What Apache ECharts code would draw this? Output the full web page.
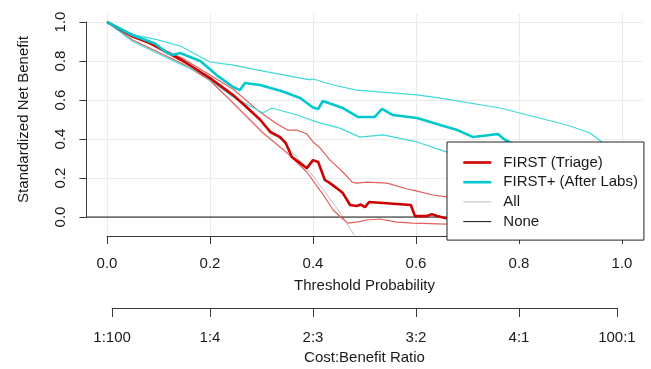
<!DOCTYPE html>
<html><head><meta charset="utf-8">
<script src="https://cdn.jsdelivr.net/npm/echarts@6/dist/echarts.min.js"></script>
<style>html,body{margin:0;padding:0;background:#fff}#c{width:651px;height:369px}</style>
</head><body><div id="c"></div>
<script>
// ---- data ----
const thresholdTicks = [0, 0.2, 0.4, 0.6, 0.8, 1.0];
const netBenefitTicks = [0, 0.2, 0.4, 0.6, 0.8, 1.0];
const costBenefitLabels = ['1:100', '1:4', '2:3', '3:2', '4:1', '100:1'];
const costBenefitRatios = [[1,100],[1,4],[2,3],[3,2],[4,1],[100,1]];

const firstMain = [[0,1],[0.05,0.925],[0.083,0.892],[0.148,0.8],[0.2,0.712],[0.245,0.625],[0.265,0.578],[0.297,0.5],[0.317,0.436],[0.336,0.41],[0.347,0.38],[0.359,0.308],[0.388,0.251],[0.4,0.292],[0.41,0.282],[0.423,0.19],[0.433,0.174],[0.452,0.136],[0.458,0.123],[0.472,0.062],[0.485,0.057],[0.493,0.064],[0.501,0.051],[0.509,0.077],[0.536,0.072],[0.59,0.062],[0.598,0.005],[0.621,0.005],[0.631,0.015],[0.641,0.005],[0.656,-0.005],[0.72,-0.01]];
const firstUpper = [[0,1],[0.05,0.928],[0.148,0.812],[0.2,0.728],[0.245,0.655],[0.297,0.538],[0.33,0.477],[0.351,0.446],[0.369,0.446],[0.388,0.426],[0.4,0.385],[0.414,0.354],[0.433,0.292],[0.458,0.231],[0.476,0.179],[0.485,0.174],[0.505,0.179],[0.544,0.174],[0.583,0.144],[0.602,0.133],[0.633,0.113],[0.66,0.103],[0.72,0.08]];
const firstLower = [[0,1],[0.05,0.908],[0.148,0.785],[0.2,0.7],[0.239,0.6],[0.303,0.431],[0.35,0.328],[0.388,0.231],[0.419,0.118],[0.439,0.036],[0.458,-0.01],[0.468,-0.031],[0.485,-0.026],[0.505,-0.015],[0.53,-0.01],[0.563,-0.026],[0.594,-0.031],[0.66,-0.036],[0.72,-0.04]];

const plusMain = [[0,1],[0.05,0.932],[0.093,0.89],[0.117,0.841],[0.128,0.831],[0.142,0.841],[0.181,0.8],[0.2,0.758],[0.214,0.725],[0.245,0.667],[0.258,0.651],[0.268,0.687],[0.297,0.677],[0.34,0.645],[0.375,0.61],[0.4,0.562],[0.41,0.554],[0.419,0.595],[0.458,0.559],[0.487,0.513],[0.52,0.513],[0.534,0.554],[0.555,0.523],[0.602,0.508],[0.647,0.472],[0.68,0.446],[0.711,0.41],[0.744,0.421],[0.759,0.426],[0.773,0.395],[0.786,0.379],[0.82,0.36]];
const plusUpper = [[0,1],[0.05,0.935],[0.097,0.91],[0.142,0.877],[0.2,0.795],[0.245,0.779],[0.311,0.744],[0.394,0.703],[0.4,0.708],[0.439,0.677],[0.485,0.651],[0.602,0.626],[0.647,0.61],[0.763,0.559],[0.816,0.523],[0.893,0.472],[0.938,0.431],[0.961,0.385],[0.98,0.33]];
const plusLower = [[0,1],[0.05,0.9],[0.117,0.815],[0.181,0.738],[0.2,0.703],[0.245,0.615],[0.303,0.533],[0.32,0.559],[0.369,0.523],[0.408,0.487],[0.452,0.456],[0.491,0.41],[0.536,0.421],[0.602,0.385],[0.66,0.333],[0.72,0.29]];

const treatAll = [[0,1],[0.05,0.938],[0.1,0.869],[0.15,0.791],[0.2,0.704],[0.25,0.606],[0.3,0.493],[0.35,0.363],[0.4,0.211],[0.45,0.032],[0.48,-0.092],[0.5,-0.183]];
const treatNone = [[-0.04,0],[1.04,0]];

// ---- chart ----
const FONT = 'Arial, "Liberation Sans", sans-serif';
const TXT = '#1a1a1a';
const AX = '#3a3a3a';
const GRIDC = '#ebebeb';
const cbTicks = costBenefitRatios.map(r => r[0] / (r[0] + r[1]));

const chart = echarts.init(document.getElementById('c'), null, {renderer: 'canvas'});

function line(name, data, color, width, z) {
  return {type: 'line', name, data, xAxisIndex: 0, yAxisIndex: 0, symbol: 'none',
    showSymbol: false, clip: true, animation: false, z: z || 2, silent: true,
    lineStyle: {color, width}, itemStyle: {color}};
}

chart.setOption({
  animation: false,
  backgroundColor: '#fff',
  textStyle: {fontFamily: FONT},
  grid: [
    {left: 86.4, top: 13.8, width: 556.2, height: 221.2},
    {left: 107, top: 13.8, width: 515, height: 222.2},
    {left: 86.4, top: 22, width: 556.2, height: 195},
    {left: 107 + 515 / 101, top: 307, width: 515 * 99 / 101, height: 1}
  ],
  xAxis: [
    {gridIndex: 0, type: 'value', min: -0.04, max: 1.04, show: false},
    {gridIndex: 1, type: 'value', min: 0, max: 1, interval: 0.2,
      axisLine: {show: true, lineStyle: {color: AX, width: 1}},
      axisTick: {show: true, inside: false, length: 8, lineStyle: {color: AX}},
      axisLabel: {margin: 20, fontSize: 15, color: TXT, fontFamily: FONT,
        formatter: v => thresholdTicks.find(t => Math.abs(t - v) < 1e-6) !== undefined ? v.toFixed(1) : ''},
      splitLine: {show: true, lineStyle: {color: GRIDC, width: 1}},
      name: 'Threshold Probability', nameLocation: 'middle', nameGap: 42,
      nameTextStyle: {fontSize: 15, color: TXT, fontFamily: FONT}},
    {gridIndex: 2, type: 'value', min: 0, max: 1, show: false},
    {gridIndex: 3, type: 'value', min: cbTicks[0], max: cbTicks[cbTicks.length - 1],
      axisLine: {show: true, lineStyle: {color: AX, width: 1}},
      axisTick: {show: true, inside: false, length: 9, lineStyle: {color: AX}, customValues: cbTicks},
      axisLabel: {margin: 22, fontSize: 15, color: TXT, fontFamily: FONT, customValues: cbTicks,
        showMinLabel: true, showMaxLabel: true,
        formatter: v => {
          let best = 0, d = 1e9;
          cbTicks.forEach((t, i) => { if (Math.abs(t - v) < d) { d = Math.abs(t - v); best = i; } });
          return costBenefitLabels[best];
        }},
      splitLine: {show: false},
      name: 'Cost:Benefit Ratio', nameLocation: 'middle', nameGap: 42,
      nameTextStyle: {fontSize: 15, color: TXT, fontFamily: FONT}}
  ],
  yAxis: [
    {gridIndex: 0, type: 'value', min: -0.092, max: 1.042, show: false},
    {gridIndex: 1, type: 'value', min: 0, max: 1, show: false},
    {gridIndex: 2, type: 'value', min: 0, max: 1, interval: 0.2,
      axisLine: {show: true, lineStyle: {color: AX, width: 1}},
      axisTick: {show: true, inside: false, length: 7, lineStyle: {color: AX}},
      axisLabel: {rotate: 90, margin: 18, fontSize: 15, color: TXT, fontFamily: FONT,
        formatter: v => netBenefitTicks.find(t => Math.abs(t - v) < 1e-6) !== undefined ? v.toFixed(1) : ''},
      splitLine: {show: true, lineStyle: {color: GRIDC, width: 1}},
      name: 'Standardized Net Benefit', nameLocation: 'middle', nameGap: 55, nameRotate: 90,
      nameTextStyle: {fontSize: 15, color: TXT, fontFamily: FONT}},
    {gridIndex: 3, type: 'value', min: 0, max: 1, show: false}
  ],
  legend: {
    orient: 'vertical', left: 447, top: 142, z: 20,
    backgroundColor: '#fff', borderColor: '#222', borderWidth: 1, borderRadius: 0,
    padding: [13, 6, 11, 15], itemGap: 4.7, itemWidth: 28, itemHeight: 14,
    itemStyle: {opacity: 0},
    textStyle: {fontSize: 15, color: TXT, fontFamily: FONT, lineHeight: 14, padding: [0, 0, 0, 7]},
    selectedMode: false,
    data: [
      {name: 'FIRST (Triage)', lineStyle: {width: 2.6, color: '#cc0000'}},
      {name: 'FIRST+ (After Labs)', lineStyle: {width: 2.6, color: '#00c8cc'}},
      {name: 'All', lineStyle: {width: 1, color: '#bebebe'}},
      {name: 'None', lineStyle: {width: 1, color: '#111111'}}
    ]
  },
  series: [
    line('All', treatAll, '#bebebe', 1, 2),
    line('None', treatNone, '#111111', 1, 2),
    line('FIRST upper', firstUpper, '#e35d5d', 1.2, 3),
    line('FIRST lower', firstLower, '#e35d5d', 1.2, 3),
    line('FIRST (Triage)', firstMain, '#cc0000', 2.6, 4),
    line('FIRST+ upper', plusUpper, '#3fd9d9', 1.2, 3),
    line('FIRST+ lower', plusLower, '#3fd9d9', 1.2, 3),
    line('FIRST+ (After Labs)', plusMain, '#00c8cc', 2.6, 4)
  ]
});
</script></body></html>
